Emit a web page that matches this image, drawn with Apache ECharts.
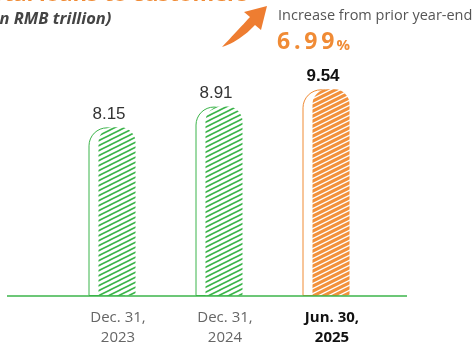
<!DOCTYPE html>
<html>
<head>
<meta charset="utf-8">
<script src="https://cdn.jsdelivr.net/npm/echarts@6/dist/echarts.min.js"></script>
<style>
  html, body { margin: 0; padding: 0; background: #fff; }
  #chart { width: 476px; height: 345px; }
</style>
</head>
<body>
<div id="chart"></div>
<script>
// ---- data ----
const categories = ['Dec. 31,\n2023', 'Dec. 31,\n2024', 'Jun. 30,\n2025'];
const values = [8.15, 8.91, 9.54];
const highlightIndex = 2;
const titleText = 'Total loans to customers';
const subtitleText = '(in RMB trillion)';
const increaseLabel = 'Increase from prior year-end';
const increaseValue = '6.99';

// ---- styles ----
const GREEN = '#3BB44A';
const ORANGE = '#F08B35';

function makePattern(bg, fg, lw) {
  const c = document.createElement('canvas');
  c.width = 10; c.height = 5;
  const ctx = c.getContext('2d');
  ctx.fillStyle = bg; ctx.fillRect(0, 0, 10, 5);
  ctx.strokeStyle = fg; ctx.lineWidth = lw;
  for (let j = -1; j <= 1; j++) {
    ctx.beginPath();
    ctx.moveTo(-2, 6 + 5 * j);
    ctx.lineTo(12, -1 + 5 * j);
    ctx.stroke();
  }
  return c;
}
const greenPattern = { image: makePattern('#ffffff', GREEN, 1.6), repeat: 'repeat' };
const orangePattern = { image: makePattern('#F2913C', '#ffffff', 1.3), repeat: 'repeat' };

// decorative curved arrow outline (quadratic curves sampled into a polygon)
function quad(p0, p1, p2, n) {
  const pts = [];
  for (let k = 0; k <= n; k++) {
    const t = k / n, u = 1 - t;
    pts.push([u * u * p0[0] + 2 * u * t * p1[0] + t * t * p2[0], u * u * p0[1] + 2 * u * t * p1[1] + t * t * p2[1]]);
  }
  return pts;
}
const arrowPts = [].concat(
  quad([222, 47], [240, 41], [255, 25], 12),
  [[261, 30], [267, 6], [244, 12], [250, 17]],
  quad([250, 17], [237, 31], [222, 47], 12)
);

const outlineData = values.map((v, i) => ({
  value: v,
  itemStyle: { color: '#fff', borderColor: i === highlightIndex ? ORANGE : GREEN, borderWidth: 1 },
  label: i === highlightIndex ? { fontWeight: 'bold', color: '#111' } : {}
}));
const hatchData = values.map((v, i) => ({
  value: v,
  itemStyle: { color: i === highlightIndex ? orangePattern : greenPattern }
}));

const chart = echarts.init(document.getElementById('chart'), null, { renderer: 'canvas' });
chart.setOption({
  animation: false,
  backgroundColor: '#fff',
  grid: { left: 58.5, right: 96.5, top: 49.4, bottom: 49 },
  xAxis: {
    type: 'category',
    data: categories,
    axisLine: { show: false },
    axisTick: { show: false },
    axisLabel: {
      margin: 12,
      formatter: (v, i) => {
        const lines = v.split('\n');
        const tag = i === highlightIndex ? 'b' : 'a';
        return lines.map(l => '{' + tag + '|' + l + '}').join('\n');
      },
      rich: {
        a: { fontFamily: 'Open Sans', fontSize: 15, color: '#666', lineHeight: 20, padding: [0, 0, 0, 12] },
        b: { fontFamily: 'Open Sans', fontSize: 15, fontWeight: 'bold', color: '#111', lineHeight: 20, padding: [0, 0, 0, 12] }
      }
    }
  },
  yAxis: {
    type: 'value', min: 2, max: 11, show: false, splitLine: { show: false }
  },
  series: [
    {
      type: 'bar',
      data: outlineData,
      barWidth: 37,
      barGap: '-73%',
      itemStyle: { borderRadius: [18, 18, 0, 0] },
      label: {
        show: true, position: 'top', distance: 5, offset: [2, 0],
        fontFamily: 'Liberation Sans', fontSize: 17, color: '#333',
        formatter: p => p.value.toFixed(2)
      },
      z: 2
    },
    {
      type: 'bar',
      data: hatchData,
      barWidth: 37,
      itemStyle: { borderRadius: [15, 15, 0, 0] },
      z: 3
    }
  ],
  graphic: [
    { type: 'line', z: 10, shape: { x1: 7, y1: 296, x2: 407, y2: 296 }, style: { stroke: GREEN, lineWidth: 1.5 } },
    { type: 'text', x: 248, y: 6, style: { text: titleText, fill: ORANGE, font: 'bold 22px "Open Sans"', textAlign: 'right', textVerticalAlign: 'bottom' } },
    { type: 'text', x: -11, y: 11, style: { text: subtitleText, fill: '#444', font: 'italic bold 16.5px "Open Sans"', textAlign: 'left', textVerticalAlign: 'top' } },
    { type: 'text', x: 278, y: 8, style: { text: increaseLabel, fill: '#555', font: '14.5px "Open Sans"', textAlign: 'left', textVerticalAlign: 'top' } },
    { type: 'text', x: 277, y: 31, style: {
        text: '{n|' + increaseValue.split('').join('\u2009') + '}{p|%}',
        rich: {
          n: { fontFamily: 'Open Sans', fontWeight: 'bold', fontSize: 23, fill: ORANGE, color: ORANGE },
          p: { fontFamily: 'Open Sans', fontWeight: 'bold', fontSize: 15, fill: ORANGE, color: ORANGE, padding: [6, 0, 0, 2] }
        }
      } },
    { type: 'polygon', shape: { points: arrowPts }, style: { fill: '#EE7D31' } }
  ]
});
</script>
</body>
</html>
